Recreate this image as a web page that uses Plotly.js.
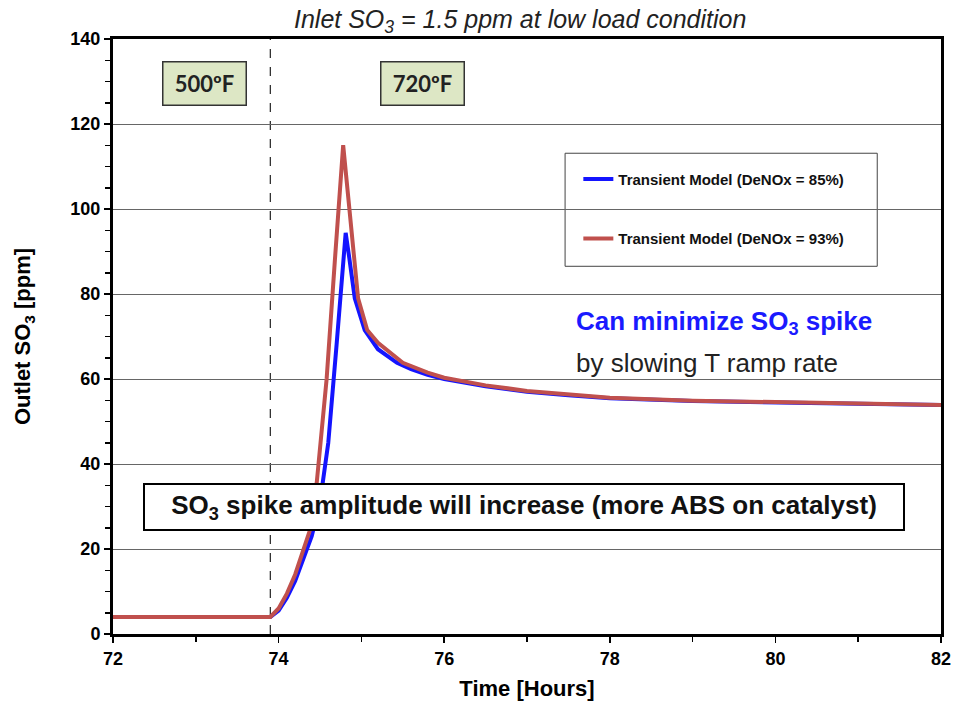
<!DOCTYPE html>
<html><head><meta charset="utf-8">
<script src="https://cdn.plot.ly/plotly-3.0.1.min.js"></script>
<style>body{margin:0;background:#fff}#c{width:955px;height:709px}</style>
</head><body><div id="c"></div>
<script>
// Data
const timeBlue = [72, 73.9, 74.0, 74.1, 74.2, 74.3, 74.4, 74.5, 74.6, 74.7, 74.77, 74.81, 74.85, 74.92, 75.04, 75.2, 75.43, 75.6, 75.8, 76, 76.5, 77, 77.5, 78, 79, 80, 81, 82];
const so3Blue  = [4, 4, 5.5, 8.5, 12.5, 17.5, 23, 31, 45, 68, 86, 94.4, 89, 79, 71.5, 67, 63.8, 62.3, 61, 60, 58.3, 57, 56.2, 55.5, 54.8, 54.4, 54.2, 53.9];
const timeRed  = [72, 73.9, 74.0, 74.1, 74.2, 74.3, 74.38, 74.46, 74.58, 74.68, 74.78, 74.85, 74.96, 75.07, 75.2, 75.5, 75.6, 75.8, 76, 76.5, 77, 77.5, 78, 79, 80, 81, 82];
const so3Red   = [4, 4, 6, 9.5, 14, 19.5, 24.5, 35.5, 60, 88, 115, 101, 79, 71.5, 68.5, 63.8, 63, 61.5, 60.3, 58.5, 57.2, 56.3, 55.6, 54.9, 54.5, 54.2, 53.9];
const seriesNames = ["Transient Model (DeNOx = 85%)", "Transient Model (DeNOx = 93%)"];
const transitionTime = 73.9;
const tempLabels = ["500ºF", "720ºF"];
const tempLabelX = [73.1, 75.74];

const F = "Liberation Sans, Arial, sans-serif";
const traces = [
  {x: timeBlue, y: so3Blue, name: seriesNames[0], mode: "lines", legendgroup: "a",
   line: {color: "#1414ff", width: 4}},
  {x: timeRed, y: so3Red, name: seriesNames[1], mode: "lines", legendgroup: "b",
   line: {color: "#c0504d", width: 4}}
];
const boxFont = {family: "Lato, Carlito, Calibri, sans-serif", size: 22, color: "#222", weight: 700};
const layout = {
  width: 955, height: 709,
  margin: {l: 113, r: 14, t: 39, b: 75},
  paper_bgcolor: "#fff", plot_bgcolor: "#fff",
  font: {family: F, color: "#000"},
  showlegend: true,
  legend: {x: 0.562, y: 0.792, xanchor: "left", yanchor: "top",
    borderwidth: 0, bgcolor: "rgba(0,0,0,0)",
    font: {family: F, size: 15, weight: 700, color: "#111"}, tracegroupgap: 37,
    traceorder: "grouped"},
  xaxis: {range: [72, 82], dtick: 2, tick0: 72, showgrid: false, zeroline: false,
    showline: true, linecolor: "#000", linewidth: 3, mirror: true,
    ticks: "outside", ticklen: 6, tickwidth: 1.5, tickcolor: "#000",
    minor: {dtick: 1, ticks: "outside", ticklen: 5, tickcolor: "#000"},
    tickfont: {family: F, size: 18, weight: 700},
    title: {text: "Time [Hours]", font: {family: F, size: 22, weight: 700}, standoff: 14}},
  yaxis: {range: [0, 140], dtick: 20, showgrid: true, gridcolor: "#666", gridwidth: 1, zeroline: false,
    showline: true, linecolor: "#000", linewidth: 3, mirror: true,
    ticks: "outside", ticklen: 6, tickwidth: 1.5, tickcolor: "#000",
    minor: {dtick: 5, ticks: "outside", ticklen: 5, tickcolor: "#000", showgrid: false},
    tickfont: {family: F, size: 18, weight: 700},
    title: {text: "Outlet SO<sub>3</sub> [ppm]", font: {family: F, size: 22, weight: 700}, standoff: 34}},
  shapes: [
    {type: "line", xref: "x", yref: "y", x0: transitionTime, x1: transitionTime, y0: 0, y1: 140,
     line: {color: "#222", width: 1.2, dash: "dash"}, layer: "below"},
    {type: "rect", xref: "paper", yref: "paper", x0: 0.546, x1: 0.923, y0: 0.618, y1: 0.808,
     line: {color: "#444", width: 1}, fillcolor: "#fff", layer: "below"}
  ],
  annotations: [
    {text: "<i>Inlet SO<sub>3</sub> = 1.5 ppm at low load condition</i>", xref: "paper", yref: "paper",
     x: 0.492, y: 1.0, yanchor: "bottom", xanchor: "center", showarrow: false, yshift: 0,
     font: {family: F, size: 25, color: "#222"}},
    {text: tempLabels[0], xref: "x", yref: "paper", x: tempLabelX[0], y: 0.926, xanchor: "center", yanchor: "middle",
     showarrow: false, bgcolor: "#dde7c5", bordercolor: "#333", borderwidth: 1.5, borderpad: 5, font: boxFont,
     width: 72, height: 32},
    {text: tempLabels[1], xref: "x", yref: "paper", x: tempLabelX[1], y: 0.926, xanchor: "center", yanchor: "middle",
     showarrow: false, bgcolor: "#dde7c5", bordercolor: "#333", borderwidth: 1.5, borderpad: 5, font: boxFont,
     width: 72, height: 32},
    {text: "<b>Can minimize SO<sub>3</sub> spike</b>", xref: "paper", yref: "paper",
     x: 0.557, y: 0.523, xanchor: "left", yanchor: "middle", showarrow: false,
     font: {family: F, size: 26, color: "#1a1aff"}},
    {text: "by slowing T ramp rate", xref: "paper", yref: "paper",
     x: 0.557, y: 0.456, xanchor: "left", yanchor: "middle", showarrow: false,
     font: {family: F, size: 26, color: "#222"}},
    {text: "<b>SO<sub>3</sub> spike amplitude will increase (more ABS on catalyst)</b>", xref: "paper", yref: "paper",
     x: (524 - 113) / 828, y: 0.213, xanchor: "center", yanchor: "middle", showarrow: false,
     bgcolor: "#fff", bordercolor: "#000", borderwidth: 2, borderpad: 5,
     width: 748, height: 34,
     font: {family: F, size: 26, color: "#111"}}
  ]
};
Plotly.newPlot("c", traces, layout, {displayModeBar: false, staticPlot: true});
</script></body></html>
